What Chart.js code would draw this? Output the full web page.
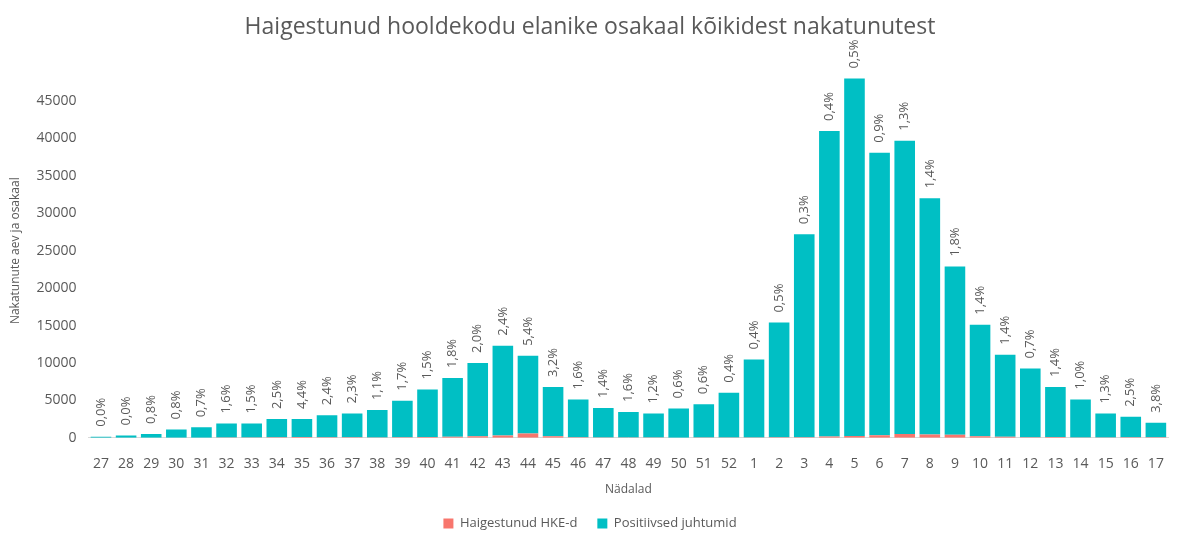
<!DOCTYPE html>
<html>
<head>
<meta charset="utf-8">
<script src="https://cdn.jsdelivr.net/npm/chart.js@4"></script>
<style>
  html, body { margin: 0; padding: 0; background: #fff; }
  #wrap { width: 1182px; height: 534px; }
</style>
</head>
<body>
<div id="wrap"><canvas id="chart"></canvas></div>
<script>
// Weeks (nädalad)
const weeks = ['27','28','29','30','31','32','33','34','35','36','37','38','39','40','41','42','43','44','45','46','47','48','49','50','51','52',
  '1','2','3','4','5','6','7','8','9','10','11','12','13','14','15','16','17'];

// Positive cases per week (stacked on top of HKE)
const positive = [150, 300, 496, 1090, 1390, 1870, 1870, 2440, 2390, 2930, 3175, 3660, 4870, 6350, 7860, 9800, 12000, 10360, 6580, 5020, 3940, 3400, 3210, 3880, 4470, 5980,
  10410, 15320, 27120, 40840, 47760, 37760, 39180, 31550, 22490, 14890, 10950, 9190, 6700, 5050, 3210, 2730, 1920];

// Sick care-home residents (HKE)
const hke = [0, 0, 4, 9, 10, 30, 28, 62, 110, 72, 75, 41, 84, 97, 144, 200, 295, 590, 218, 82, 56, 55, 39, 23, 27, 24,
  42, 77, 82, 164, 240, 343, 516, 448, 412, 211, 155, 65, 95, 51, 42, 70, 76];

// Share labels shown above bars
const shareLabels = ['0,0%','0,0%','0,8%','0,8%','0,7%','1,6%','1,5%','2,5%','4,4%','2,4%','2,3%','1,1%','1,7%','1,5%','1,8%','2,0%','2,4%','5,4%','3,2%','1,6%','1,4%','1,6%','1,2%','0,6%','0,6%','0,4%',
  '0,4%','0,5%','0,3%','0,4%','0,5%','0,9%','1,3%','1,4%','1,8%','1,4%','1,4%','0,7%','1,4%','1,0%','1,3%','2,5%','3,8%'];

const textColor = '#595959';

// Draw rotated share labels above each stacked bar
const shareLabelPlugin = {
  id: 'shareLabels',
  afterDatasetsDraw(chart) {
    const ctx = chart.ctx;
    const meta = chart.getDatasetMeta(1);
    ctx.save();
    ctx.font = '13px "Open Sans", sans-serif';
    ctx.fillStyle = textColor;
    ctx.textAlign = 'left';
    ctx.textBaseline = 'middle';
    meta.data.forEach((bar, i) => {
      ctx.save();
      ctx.translate(bar.x, bar.y - 10);
      ctx.rotate(-Math.PI / 2);
      ctx.fillText(shareLabels[i], 0, 0);
      ctx.restore();
    });
    ctx.restore();
  }
};

const ctx = document.getElementById('chart').getContext('2d');
new Chart(ctx, {
  type: 'bar',
  data: {
    labels: weeks,
    datasets: [{
      label: 'Haigestunud HKE-d',
      data: hke,
      backgroundColor: '#F8766D',
      categoryPercentage: 1,
      barPercentage: 0.82
    }, {
      label: 'Positiivsed juhtumid',
      data: positive,
      backgroundColor: '#00BFC4',
      categoryPercentage: 1,
      barPercentage: 0.82
    }]
  },
  options: {
    responsive: true,
    maintainAspectRatio: false,
    animation: false,
    layout: { padding: { left: 8, right: 10, top: 0, bottom: -6 } },
    plugins: {
      title: {
        display: true,
        text: 'Haigestunud hooldekodu elanike osakaal kõikidest nakatunutest',
        color: textColor,
        font: { family: '"Open Sans", sans-serif', size: 23, weight: 'normal' },
        padding: { top: 14, bottom: 22 }
      },
      legend: {
        position: 'bottom',
        labels: {
          color: textColor,
          font: { family: '"Open Sans", sans-serif', size: 13 },
          boxWidth: 10,
          boxHeight: 10,
          padding: 20
        }
      },
      tooltip: { enabled: false }
    },
    scales: {
      x: {
        stacked: true,
        grid: { display: false, drawTicks: false },
        border: { color: '#d9d9d9' },
        ticks: {
          color: textColor,
          font: { family: '"Open Sans", sans-serif', size: 14 },
          maxRotation: 0,
          autoSkip: false,
          padding: 18
        },
        title: {
          display: true,
          text: 'Nädalad',
          color: textColor,
          font: { family: '"Open Sans", sans-serif', size: 12 },
          padding: { top: -8, bottom: 0 }
        }
      },
      y: {
        stacked: true,
        min: 0,
        max: 50000,
        grid: { display: false, drawTicks: false },
        border: { display: false },
        ticks: {
          stepSize: 5000,
          color: textColor,
          font: { family: '"Open Sans", sans-serif', size: 14 },
          padding: 12,
          callback: v => (v === 50000 ? '' : v)
        },
        title: {
          display: true,
          text: 'Nakatunute aev ja osakaal',
          color: textColor,
          font: { family: '"Open Sans", sans-serif', size: 12 },
          padding: { top: 0, bottom: 2 }
        }
      }
    }
  },
  plugins: [shareLabelPlugin]
});
</script>
</body>
</html>
